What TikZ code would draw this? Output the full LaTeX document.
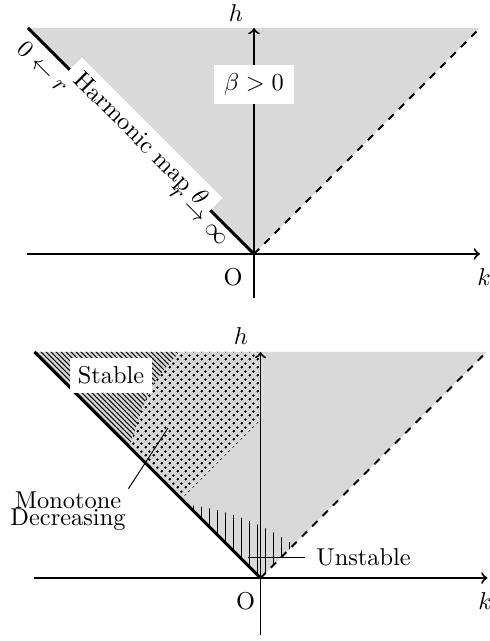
\documentclass[tikz,border=0pt]{standalone}
\usetikzlibrary{patterns.meta}
\tikzdeclarepattern{
  name=sdots,
  type=uncolored,
  bounding box={(0pt,0pt) and (3.3pt,3.3pt)},
  tile size={(3.3pt,3.3pt)},
  code={
    \pgfpathcircle{\pgfqpoint{0.825pt}{0.825pt}}{0.65pt}
    \pgfpathcircle{\pgfqpoint{2.475pt}{2.475pt}}{0.65pt}
    \pgfusepath{fill}
  }
}
\tikzset{
  axisline/.style={thick,->},
  border/.style={very thick},
  region/.style={fill=gray!30},
  lbl/.style={inner sep=1pt},
  whitebox/.style={fill=white},
  thinlead/.style={line width=0.4pt},
}
\begin{document}
\begin{tikzpicture}[x=0.41pt,y=0.41pt]
\useasboundingbox (0,0) rectangle (490,641);
% ---------- top diagram ----------
\begin{scope}[shift={(254,387)}]
  \coordinate (O1) at (0,0);
  \coordinate (TL1) at (-226,226);
  \coordinate (TR1) at (226,226);
  \coordinate (kL1) at (-227,0);
  \coordinate (kR1) at (226,0);
  \coordinate (hB1) at (0,-44);
  \coordinate (hT1) at (0,226);
  \fill[region] (TL1) -- (TR1) -- (O1) -- cycle;
  \draw[axisline] (kL1) -- (kR1);
  \draw[axisline] (hB1) -- (hT1);
  \draw[thick,dashed] (O1) -- (TR1);
  \draw[border] (O1) -- (TL1);
  \node[whitebox,rotate=-45,inner xsep=4.2pt,inner ysep=2.6pt] (hm) at (-114,114) {Harmonic map $\theta$};
  \node[whitebox,inner xsep=4pt,inner ysep=3.6pt] (beta) at (0,169.5) {$\beta>0$};
  \node[lbl,rotate=-45] (r0) at (-211,187) {$0\leftarrow r$};
  \node[lbl,rotate=-45] (rinf) at (-56,37) {$r\to\infty$};
  \node[lbl] (h1) at (-18,241) {$h$};
  \node[lbl] (k1) at (230,-23) {$k$};
  \node[lbl] (o1) at (-21,-23) {O};
\end{scope}
% ---------- bottom diagram ----------
\begin{scope}[shift={(260.5,63)}]
  \coordinate (O2) at (0,0);
  \coordinate (TL2) at (-226,226);
  \coordinate (TR2) at (226,226);
  \coordinate (kL2) at (-227,0);
  \coordinate (kR2) at (227,0);
  \coordinate (hB2) at (0,-57);
  \coordinate (hT2) at (0,226);
  \fill[region] (TL2) -- (TR2) -- (O2) -- cycle;
  \fill[pattern=sdots] (-81,226) .. controls (-112,191) .. (-131,131) -- (-79,79) -- (0,158) -- (0,226) -- cycle;
  \fill[pattern={Lines[angle=-45,distance=1.45pt,line width=0.4pt]}] (TL2) -- (-81,226) .. controls (-112,191) .. (-131,131) -- cycle;
  \fill[pattern={Lines[angle=90,distance=3.3pt,line width=0.45pt]}] (O2) -- (-73,73) .. controls (-40,70) and (0,56) .. (33,33) -- cycle;
  \draw[axisline] (kL2) -- (kR2);
  \draw[axisline] (hB2) -- (hT2);
  \draw[thick,dashed] (O2) -- (TR2);
  \draw[border] (O2) -- (TL2);
  \node[whitebox,inner xsep=3.3pt,inner ysep=3.7pt] (st) at (-149.5,202.5) {Stable};
  \node[align=center,inner sep=1pt] (md) at (-192.5,67) {Monotone\\[-5pt]Decreasing};
  \coordinate (mdp) at (-92.5,150);
  \draw[thinlead] (mdp) -- (md.north east);
  \node[anchor=west,inner xsep=4.5pt,inner ysep=1pt] (us) at (44.5,21) {Unstable};
  \coordinate (usp) at (-12.5,21);
  \draw[thinlead] (usp) -- (us.west);
  \node[lbl] (h2) at (-19.5,242) {$h$};
  \node[lbl] (k2) at (224.5,-23) {$k$};
  \node[lbl] (o2) at (-15,-23) {O};
\end{scope}
\end{tikzpicture}
\end{document}
